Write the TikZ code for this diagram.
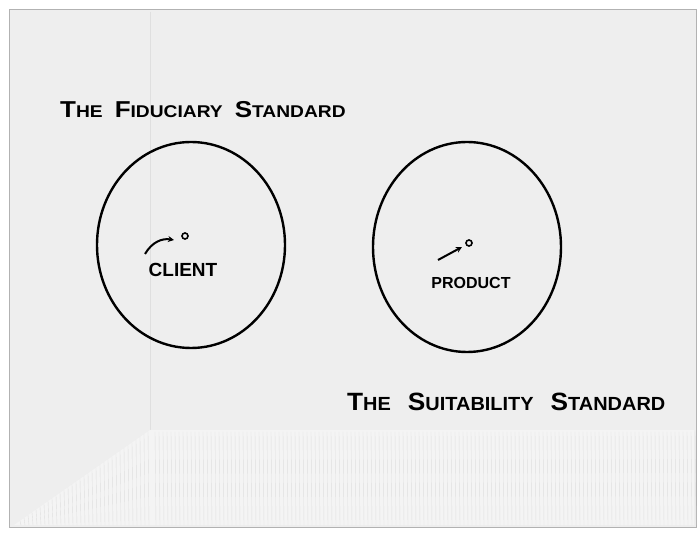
\documentclass[tikz,border=0pt]{standalone}
\usepackage{fontspec}
\setmainfont{Liberation Sans}
\usetikzlibrary{arrows.meta}
\tikzset{
  ink/.style={draw=black, line width=2.4pt},
  hand/.style={text=black, inner sep=0pt},
  lbl/.style={text=black, inner sep=0pt},
  dotc/.style={circle, draw=black, line width=1.6pt, minimum size=6pt, inner sep=0pt},
  pointer/.style={draw=black, line width=2pt, -{Stealth[length=6pt,width=6pt]}}
}
\newcommand{\capw}[4]{{\fontsize{#1}{#1}\selectfont\bfseries #3{\fontsize{#2}{#2}\selectfont #4}}}
\newcommand{\fw}[2]{\scalebox{1.13}[1]{\capw{23}{17}{#1}{#2}}}
\newcommand{\sw}[2]{\scalebox{1.05}[1]{\capw{25}{19}{#1}{#2}}}
\begin{document}
\begin{tikzpicture}[x=1pt,y=-1pt]
\useasboundingbox (0,0) rectangle (699,534);
\fill[white] (0,0) rectangle (699,534);
% napkin
\fill[gray!13] (9,10) rectangle (696,527);
\draw[gray!60, line width=1pt] (9,10) rectangle (696,527);
\draw[gray!25, line width=0.8pt] (150,12) -- (150,430);
% fringe
\fill[gray!9] (14,525) -- (150,430) -- (694,430) -- (694,525) -- cycle;
\foreach \i in {0,...,135} {
  \pgfmathsetmacro{\xx}{155+\i*4}
  \draw[gray!25, line width=0.4pt] (\xx,432) -- (\xx+1,525);
}
\foreach \i in {0,...,32} {
  \pgfmathsetmacro{\xx}{20+\i*4}
  \pgfmathsetmacro{\yy}{525-(\xx-14)*95/136}
  \draw[gray!25, line width=0.4pt] (\xx,\yy) -- (\xx+1,525);
}
% titles
\node[hand, anchor=west] (fid) at (60,110) {\fw{T}{HE}\hspace{12pt}\fw{F}{IDUCIARY}\hspace{12pt}\fw{S}{TANDARD}};
\node[hand, anchor=west] (suit) at (347,402) {\sw{T}{HE}\hspace{17pt}\sw{S}{UITABILITY}\hspace{17pt}\sw{S}{TANDARD}};
% circles
\draw[ink] (191,245) ellipse [x radius=94, y radius=103];
\draw[ink] (467,247) ellipse [x radius=94, y radius=105];
% client
\node[dotc] (cdot) at (185,236) {};
\node[lbl] (client) at (183,270) {\capw{19}{19}{C}{LIENT}};
\coordinate (cs) at (145,254);
\draw[pointer] (cs) .. controls (152,242) and (162,238) .. (174,240);
% product
\node[dotc] (pdot) at (469,243) {};
\node[lbl] (product) at (471,283) {\capw{16}{16}{P}{RODUCT}};
\coordinate (ps) at (438,260);
\draw[pointer] (ps) -- (462,247);
\end{tikzpicture}
\end{document}
